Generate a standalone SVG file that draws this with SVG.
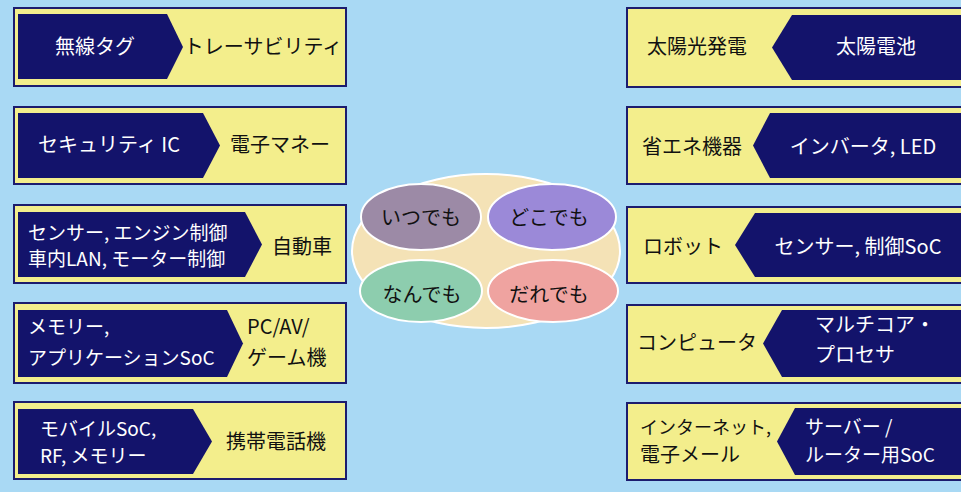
<svg xmlns="http://www.w3.org/2000/svg" width="961" height="492" viewBox="0 0 961 492">
<style>
.box{fill:#f3ee8c;stroke:#1c1c6e;stroke-width:2}
.nav{fill:#13136b}
text{font-family:"Noto Sans CJK JP","Noto Sans",sans-serif;font-size:20px}
.w{fill:#ffffff}
.k{fill:#111111}
.m{text-anchor:middle}
.s{font-size:19px}
.t{font-size:18px}
.el{stroke:#ffffff;stroke-width:2}
</style>
<rect x="0" y="0" width="961" height="492" fill="#a9d9f4"/>
<g id="left1">
<rect class="box" x="14" y="8" width="332" height="78"/>
<polygon class="nav" points="18,14 167,14 183,47 167,79 18,79"/>
<text class="w m" x="95" y="54">無線タグ</text>
<text class="k m" x="263" y="54">トレーサビリティ</text>
</g>
<g id="left2">
<rect class="box" x="14" y="107" width="332" height="77"/>
<polygon class="nav" points="18,113 203,113 220,145.5 203,178 18,178"/>
<text class="w m" x="109" y="152">セキュリティ IC</text>
<text class="k m" x="280" y="152">電子マネー</text>
</g>
<g id="left3">
<rect class="box" x="14" y="205" width="332" height="78"/>
<polygon class="nav" points="18,212 245,212 262,244.5 245,277 18,277"/>
<text class="w s" x="28" y="240">センサー, エンジン制御</text>
<text class="w s" x="28" y="266">車内LAN, モーター制御</text>
<text class="k m" x="302" y="254">自動車</text>
</g>
<g id="left4">
<rect class="box" x="14" y="303" width="332" height="80"/>
<polygon class="nav" points="18,310 227,310 243,343.5 227,377 18,377"/>
<text class="w s" x="28" y="334">メモリー,</text>
<text class="w s" x="28" y="365">アプリケーションSoC</text>
<text class="k" x="247" y="334">PC/AV/</text>
<text class="k" x="247" y="365">ゲーム機</text>
</g>
<g id="left5">
<rect class="box" x="14" y="402" width="332" height="77"/>
<polygon class="nav" points="18,409 193,409 212,441.5 193,474 18,474"/>
<text class="w s" x="40" y="436">モバイルSoC,</text>
<text class="w s" x="40" y="463">RF, メモリー</text>
<text class="k m" x="276" y="449">携帯電話機</text>
</g>
<g id="right1">
<rect class="box" x="627" y="8" width="345" height="79"/>
<polygon class="nav" points="972,15 792,15 772,47.5 792,80 972,80"/>
<text class="k m" x="697" y="54">太陽光発電</text>
<text class="w m" x="876" y="54">太陽電池</text>
</g>
<g id="right2">
<rect class="box" x="627" y="107" width="345" height="77"/>
<polygon class="nav" points="972,113 770,113 753,145.5 770,178 972,178"/>
<text class="k m" x="692" y="154">省エネ機器</text>
<text class="w m" x="863" y="154">インバータ, LED</text>
</g>
<g id="right3">
<rect class="box" x="627" y="207" width="345" height="76"/>
<polygon class="nav" points="972,213 755,213 735,245 755,277 972,277"/>
<text class="k m" x="683" y="254">ロボット</text>
<text class="w m" x="858" y="254">センサー, 制御SoC</text>
</g>
<g id="right4">
<rect class="box" x="627" y="305" width="345" height="78"/>
<polygon class="nav" points="972,310 782,310 763,343.5 782,377 972,377"/>
<text class="k m" x="697" y="350">コンピュータ</text>
<text class="w" x="815" y="332">マルチコア・</text>
<text class="w" x="815" y="362">プロセサ</text>
</g>
<g id="right5">
<rect class="box" x="627" y="403" width="345" height="77"/>
<polygon class="nav" points="972,408 795,408 777,441.5 795,475 972,475"/>
<text class="k t" x="640" y="434">インターネット,</text>
<text class="k" x="640" y="462">電子メール</text>
<text class="w s" x="805" y="434">サーバー /</text>
<text class="w s" x="805" y="462">ルーター用SoC</text>
</g>
<g id="center">
<ellipse cx="486" cy="251" rx="134" ry="77" fill="#f4e2b6" class="el"/>
<ellipse cx="421" cy="217" rx="60" ry="33" fill="#9c8aa6" class="el"/>
<ellipse cx="552" cy="217" rx="64" ry="33" fill="#9b89d8" class="el"/>
<ellipse cx="421" cy="291" rx="61" ry="31" fill="#8dcdae" class="el"/>
<ellipse cx="553" cy="291" rx="65" ry="31" fill="#efa3a0" class="el"/>
<text class="k m" x="421" y="225">いつでも</text>
<text class="k m" x="549" y="225">どこでも</text>
<text class="k m" x="422" y="302">なんでも</text>
<text class="k m" x="549" y="302">だれでも</text>
</g>
</svg>
